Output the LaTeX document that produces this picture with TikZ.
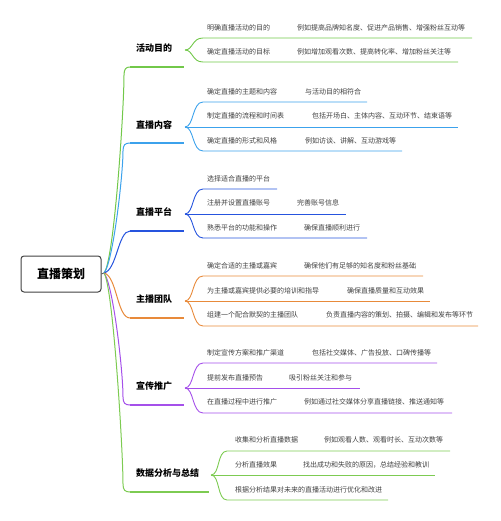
\documentclass[tikz,border=0pt]{standalone}
\usepackage{fontspec}
\setmainfont{Noto Sans CJK SC}
\definecolor{cA}{HTML}{72C84A}
\definecolor{cB}{HTML}{3CA2EC}
\definecolor{cC}{HTML}{2654DE}
\definecolor{cD}{HTML}{E88A3A}
\definecolor{cE}{HTML}{A550EA}
\definecolor{cF}{HTML}{7DCB52}
\definecolor{txt}{HTML}{404040}
\tikzset{
  root/.style={draw=black!75, line width=1pt, rounded corners=3pt, minimum width=80pt, minimum height=36pt, inner sep=0pt, font=\bfseries\fontsize{12}{14}\selectfont},
  cat/.style={anchor=west, inner sep=0pt, font=\bfseries\fontsize{9}{11}\selectfont},
  subt/.style={anchor=west, inner sep=0pt, text=txt, font=\fontsize{7}{9}\selectfont},
  mainline/.style={line width=1pt},
  under/.style={line width=2.3pt},
  subline/.style={line width=0.9pt},
}
\begin{document}
\begin{tikzpicture}[x=1pt,y=-1pt]
\useasboundingbox (0,0) rectangle (500,521);
\node[root] (root) at (61,274) {直播策划};
\coordinate (J) at (104,273);
\draw[black!70, line width=0.8pt] (root.east) -- (J);

% main branches
\coordinate (u1) at (130,67);
\coordinate (u2) at (130,143);
\coordinate (u3) at (130,231);
\coordinate (u4) at (130,318);
\coordinate (u5) at (130,405);
\coordinate (u6) at (130,492);
\draw[cA, mainline] (J) .. controls (114,262) and (124,110) .. (124,75) .. controls (124,69) and (126,67) .. (u1);
\draw[cB, mainline] (J) .. controls (113,263) and (123,175) .. (123,151) .. controls (123,145) and (125,143) .. (u2);
\draw[cC, mainline] (J) .. controls (117,270) and (118,231) .. (u3);
\draw[cD, mainline] (J) .. controls (117,276) and (117,318) .. (u4);
\draw[cE, mainline] (J) .. controls (113,284) and (123,370) .. (123,397) .. controls (123,403) and (125,405) .. (u5);
\draw[cF, mainline] (J) .. controls (113,286) and (123,450) .. (123,484) .. controls (123,490) and (125,492) .. (u6);
\coordinate (v1) at (184,67);
\coordinate (v2) at (184,143);
\coordinate (v3) at (184,231);
\coordinate (v4) at (184,318);
\coordinate (v5) at (184,405);
\coordinate (v6) at (209,492);
\draw[cA, under] (u1) -- (v1);
\draw[cB, under] (u2) -- (v2);
\draw[cC, under] (u3) -- (v3);
\draw[cD, under] (u4) -- (v4);
\draw[cE, under] (u5) -- (v5);
\draw[cF, under] (u6) -- (v6);

% category labels
\node[cat] (k1) at (136,48) {活动目的};
\node[cat] (k2) at (136,125) {直播内容};
\node[cat] (k3) at (136,212) {直播平台};
\node[cat] (k4) at (136,299) {主播团队};
\node[cat] (k5) at (136,386) {宣传推广};
\node[cat] (k6) at (136,473) {数据分析与总结};

% ---- branch 1
\coordinate (t1) at (185,50);
\coordinate (e11) at (472,38);
\coordinate (e12) at (458,62);
\draw[cA, subline] (t1) .. controls (193,50) and (192,38) .. (203,38) -- (e11);
\draw[cA, subline] (t1) .. controls (193,50) and (192,62) .. (203,62) -- (e12);
\node[subt] (a1) at (207,28) {明确直播活动的目的};
\node[subt] (a1b) at (297,28) {例如提高品牌知名度、促进产品销售、增强粉丝互动等};
\node[subt] (a2) at (207,52) {确定直播活动的目标};
\node[subt] (a2b) at (297,52) {例如增加观看次数、提高转化率、增加粉丝关注等};

% ---- branch 2
\coordinate (t2) at (185,127);
\coordinate (e21) at (367,102);
\coordinate (e22) at (458,127);
\coordinate (e23) at (402,151);
\draw[cB, subline] (t2) .. controls (194,127) and (192,102) .. (203,102) -- (e21);
\draw[cB, subline] (t2) -- (e22);
\draw[cB, subline] (t2) .. controls (194,127) and (192,151) .. (203,151) -- (e23);
\node[subt] (b1) at (207,92) {确定直播的主题和内容};
\node[subt] (b1b) at (305,92) {与活动目的相符合};
\node[subt] (b2) at (207,116) {制定直播的流程和时间表};
\node[subt] (b2b) at (312,116) {包括开场白、主体内容、互动环节、结束语等};
\node[subt] (b3) at (207,141) {确定直播的形式和风格};
\node[subt] (b3b) at (305,141) {例如访谈、讲解、互动游戏等};

% ---- branch 3
\coordinate (t3) at (185,214);
\coordinate (e31) at (277,189);
\coordinate (e32) at (346,214);
\coordinate (e33) at (367,238);
\draw[cC, subline] (t3) .. controls (194,214) and (192,189) .. (203,189) -- (e31);
\draw[cC, subline] (t3) -- (e32);
\draw[cC, subline] (t3) .. controls (194,214) and (192,238) .. (203,238) -- (e33);
\node[subt] (c1) at (207,179) {选择适合直播的平台};
\node[subt] (c2) at (207,203) {注册并设置直播账号};
\node[subt] (c2b) at (297,203) {完善账号信息};
\node[subt] (c3) at (207,228) {熟悉平台的功能和操作};
\node[subt] (c3b) at (304,228) {确保直播顺利进行};

% ---- branch 4
\coordinate (t4) at (185,301);
\coordinate (e41) at (423,276);
\coordinate (e42) at (430,301);
\coordinate (e43) at (478,326);
\draw[cD, subline] (t4) .. controls (194,301) and (192,276) .. (203,276) -- (e41);
\draw[cD, subline] (t4) -- (e42);
\draw[cD, subline] (t4) .. controls (194,301) and (192,326) .. (203,326) -- (e43);
\node[subt] (d1) at (207,266) {确定合适的主播或嘉宾};
\node[subt] (d1b) at (304,266) {确保他们有足够的知名度和粉丝基础};
\node[subt] (d2) at (207,291) {为主播或嘉宾提供必要的培训和指导};
\node[subt] (d2b) at (347,291) {确保直播质量和互动效果};
\node[subt] (d3) at (207,315) {组建一个配合默契的主播团队};
\node[subt] (d3b) at (326,315) {负责直播内容的策划、拍摄、编辑和发布等环节};

% ---- branch 5
\coordinate (t5) at (185,388);
\coordinate (e51) at (437,363);
\coordinate (e52) at (360,388);
\coordinate (e53) at (452,413);
\draw[cE, subline] (t5) .. controls (194,388) and (192,363) .. (203,363) -- (e51);
\draw[cE, subline] (t5) -- (e52);
\draw[cE, subline] (t5) .. controls (194,388) and (192,413) .. (203,413) -- (e53);
\node[subt] (f1) at (207,353) {制定宣传方案和推广渠道};
\node[subt] (f1b) at (312,353) {包括社交媒体、广告投放、口碑传播等};
\node[subt] (f2) at (207,378) {提前发布直播预告};
\node[subt] (f2b) at (289,378) {吸引粉丝关注和参与};
\node[subt] (f3) at (207,402) {在直播过程中进行推广};
\node[subt] (f3b) at (304,402) {例如通过社交媒体分享直播链接、推送通知等};

% ---- branch 6
\coordinate (t6) at (211,475);
\coordinate (e61) at (450,451);
\coordinate (e62) at (435,475);
\coordinate (e63) at (388,500);
\draw[cF, subline] (t6) .. controls (220,475) and (217,451) .. (227,451) -- (e61);
\draw[cF, subline] (t6) -- (e62);
\draw[cF, subline] (t6) .. controls (220,475) and (217,500) .. (227,500) -- (e63);
\node[subt] (g1) at (235,440) {收集和分析直播数据};
\node[subt] (g1b) at (324,440) {例如观看人数、观看时长、互动次数等};
\node[subt] (g2) at (235,465) {分析直播效果};
\node[subt] (g2b) at (303,465) {找出成功和失败的原因，总结经验和教训};
\node[subt] (g3) at (235,490) {根据分析结果对未来的直播活动进行优化和改进};
\end{tikzpicture}
\end{document}
